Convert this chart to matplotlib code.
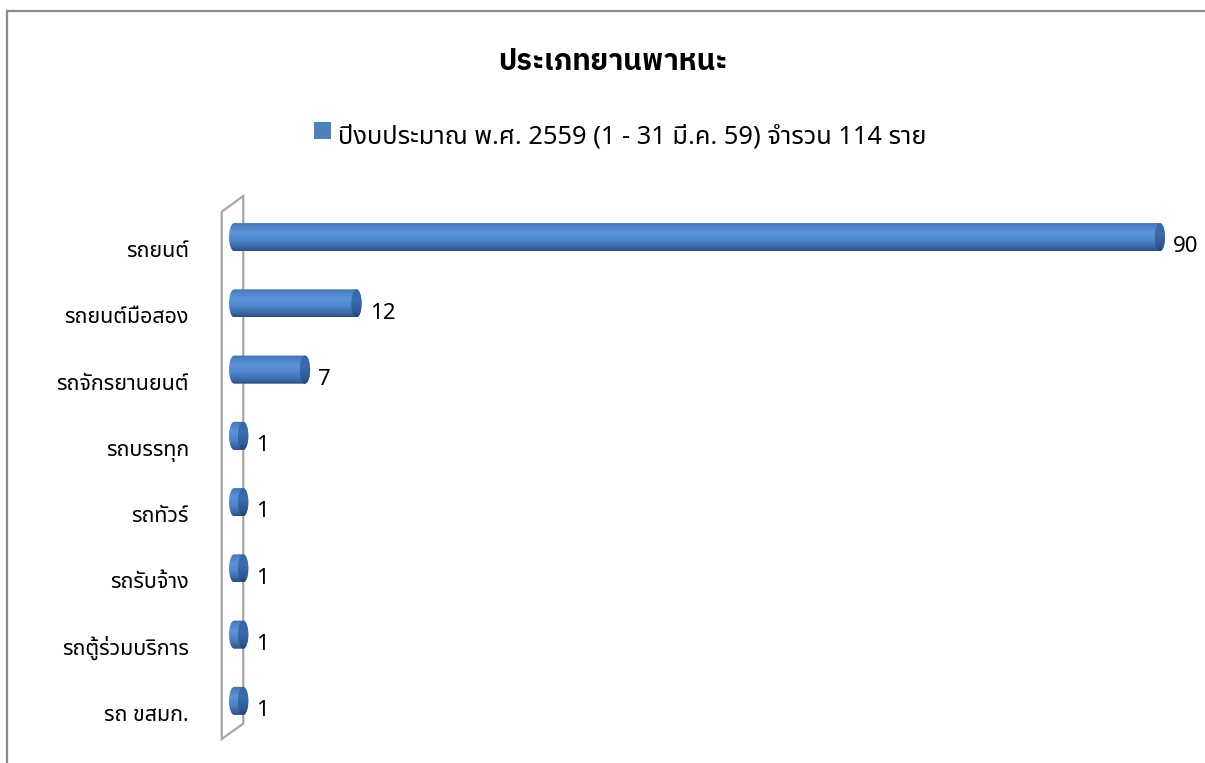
import numpy as np
import matplotlib
matplotlib.use("Agg")
import matplotlib.pyplot as plt
from matplotlib.path import Path
from matplotlib.patches import PathPatch, Polygon, Rectangle
from matplotlib.lines import Line2D
from matplotlib.colors import to_rgb

# ---- data ----
categories = ["รถยนต์", "รถยนต์มือสอง", "รถจักรยานยนต์", "รถบรรทุก",
              "รถทัวร์", "รถรับจ้าง", "รถตู้ร่วมบริการ", "รถ ขสมก."]
values = [90, 12, 7, 1, 1, 1, 1, 1]
title = "ประเภทยานพาหนะ"
series_name = "ปีงบประมาณ พ.ศ. 2559 (1 - 31 มี.ค. 59) จำรวน 114 ราย"

FONT = ["Noto Sans Thai", "Noto Sans"]
TITLE_FONT = ["IBM Plex Sans Thai", "Noto Sans"]
W, H = 1205, 763
fig = plt.figure(figsize=(W / 100, H / 100), dpi=100)
fig.patch.set_facecolor("white")

# plot area: value 0 at x=238 px, 10.3 px per unit, rows 66 px apart
x0px, pxu = 238, 10.3
xmin, xmax = -1.7, 93
left_px = x0px + xmin * pxu
ax = fig.add_axes([left_px / W, 1 - 734 / H, (xmax - xmin) * pxu / W, 530 / H])
ax.axis("off")

# thin back wall (3-D depth) behind the bars
wall = Polygon([(-1.58, -0.383), (0.51, -0.621), (0.51, 7.344), (-1.58, 7.576)],
               closed=True, facecolor="white", edgecolor="#a6a6a6",
               linewidth=1.6, clip_on=False, zorder=1)
ax.add_patch(wall)


def gradient(stops, n=64):
    pos = np.array([s[0] for s in stops])
    cols = np.array([to_rgb(s[1]) for s in stops])
    t = np.linspace(0, 1, n)
    img = np.stack([np.interp(t, pos, cols[:, k]) for k in range(3)], axis=-1)
    return img[:, None, :]


body_grad = gradient([(0.0, "#3f70b0"), (0.12, "#4b80c4"), (0.35, "#5c94d8"),
                      (0.6, "#5087cc"), (0.85, "#3b6aa9"), (1.0, "#2b4f84")])
cap_grad = gradient([(0.0, "#3565a5"), (0.4, "#3a6cae"), (0.8, "#2f5a95"),
                     (1.0, "#234577")])


def capsule(xs, xe, yc, a, b, n=40):
    th = np.linspace(np.pi / 2, 3 * np.pi / 2, n)
    left = np.column_stack([xs + a + a * np.cos(th), yc - b * np.sin(th)])
    th2 = np.linspace(-np.pi / 2, np.pi / 2, n)
    right = np.column_stack([xe - a + a * np.cos(th2), yc - b * np.sin(th2)])
    verts = np.vstack([left, right, left[:1]])
    return Path(verts, closed=True)


def ellipse(xc, yc, a, b, n=60):
    th = np.linspace(0, 2 * np.pi, n)
    return Path(np.column_stack([xc + a * np.cos(th), yc + b * np.sin(th)]), closed=True)


xs = -0.87          # bars start just in front of the wall
a = 0.5             # half-width of the end caps (x units)
b = 0.212           # half-height of the cylinders (y units)
for i, v in enumerate(values):
    yc = i
    body = PathPatch(capsule(xs, v, yc, a, b), transform=ax.transData,
                     facecolor="none", edgecolor="none")
    ax.add_patch(body)
    im = ax.imshow(body_grad, extent=[xs, v, yc + b, yc - b], origin="upper",
                   aspect="auto", interpolation="bilinear", zorder=3)
    im.set_clip_path(body)

    cap = PathPatch(ellipse(v - a, yc, a, b), transform=ax.transData,
                    facecolor="none", edgecolor="none")
    ax.add_patch(cap)
    im2 = ax.imshow(cap_grad, extent=[v - 2 * a, v, yc + b, yc - b], origin="upper",
                    aspect="auto", interpolation="bilinear", zorder=4)
    im2.set_clip_path(cap)

    ax.text(v + 0.8, yc + 0.23, str(v), ha="left", va="baseline",
            fontsize=16, family=FONT, color="#000000", zorder=5)
    ax.text(-4.76, yc + 0.30, categories[i], ha="right", va="baseline",
            fontsize=15.5, family=FONT, color="#000000", clip_on=False)

ax.set_xlim(xmin, xmax)
ax.set_ylim(7.5, -0.5)

# title and legend
fig.text(613 / W, 1 - 62 / H, title, ha="center", va="center",
         fontsize=21, fontweight="bold", family=TITLE_FONT)
fig.patches.append(Rectangle((314 / W, 1 - 139 / H), 17 / W, 17 / H,
                             transform=fig.transFigure, facecolor="#4f81bd",
                             edgecolor="none"))
fig.text(338 / W, 1 - 143 / H, series_name, ha="left", va="baseline",
         fontsize=18.3, family=FONT)

# chart frame
fig.lines.append(Line2D([7.5 / W, 7.5 / W], [0, 1 - 11 / H],
                        transform=fig.transFigure, color="#8c8c8c", linewidth=1.6))
fig.lines.append(Line2D([7 / W, 1], [1 - 11 / H, 1 - 11 / H],
                        transform=fig.transFigure, color="#8c8c8c", linewidth=1.6))

fig.savefig("out.png", dpi=100, facecolor="white")
